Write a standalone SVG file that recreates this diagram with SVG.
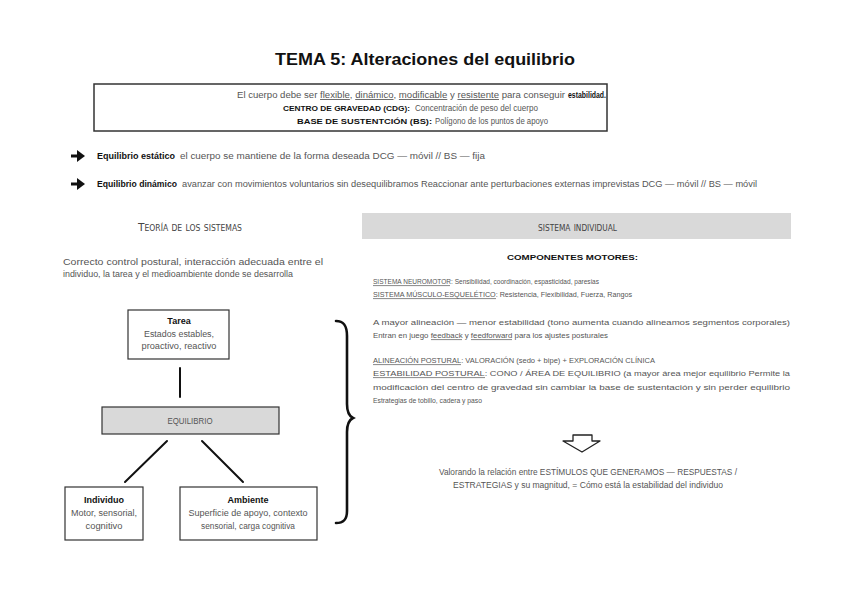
<svg xmlns="http://www.w3.org/2000/svg" width="848" height="599" viewBox="0 0 848 599">
<style>
.t{font-family:"Liberation Sans",Arial,sans-serif;font-size:8.5px;fill:#555}
.s{font-family:"Liberation Sans",Arial,sans-serif;font-size:7.6px;fill:#555}
.b{font-family:"Liberation Sans",Arial,sans-serif;font-weight:bold;fill:#111}
.u{text-decoration:underline}
.ul{stroke:#555;stroke-width:0.7}
.h{font-family:"Liberation Sans Narrow","DejaVu Sans Condensed","Liberation Sans",sans-serif;font-size:11px;fill:#444;font-variant:small-caps}
.box{fill:#fff;stroke:#333;stroke-width:1.2}
.gbox{fill:#d9d9d9;stroke:#333;stroke-width:1.2}
.ln{stroke:#111;stroke-width:2;fill:none;stroke-linecap:round}
</style>
<rect width="848" height="599" fill="#fff"/>

<g id="title">
<text class="b" x="275" y="65" font-size="17" textLength="300" lengthAdjust="spacingAndGlyphs">TEMA 5: Alteraciones del equilibrio</text>
</g>

<g id="intro-box">
<rect x="94" y="84" width="513" height="47" fill="#fff" stroke="#333" stroke-width="1.5"/>
<text class="t" x="237" y="98" textLength="328" lengthAdjust="spacingAndGlyphs">El cuerpo debe ser <tspan class="u">flexible</tspan>, <tspan class="u">dinámico</tspan>, <tspan class="u">modificable</tspan> y <tspan class="u">resistente</tspan> para conseguir</text>
<text class="b" x="568" y="98" font-size="8.5" textLength="38" lengthAdjust="spacingAndGlyphs">estabilidad.</text>
<text class="b" x="283" y="111" font-size="8" textLength="127" lengthAdjust="spacingAndGlyphs">CENTRO DE GRAVEDAD (CDG):</text>
<text class="t" x="415" y="111" textLength="123" lengthAdjust="spacingAndGlyphs">Concentración de peso del cuerpo</text>
<text class="b" x="297" y="124" font-size="8" textLength="135" lengthAdjust="spacingAndGlyphs">BASE DE SUSTENTCIÓN (BS):</text>
<text class="t" x="435" y="124" textLength="113" lengthAdjust="spacingAndGlyphs">Polígono de los puntos de apoyo</text>
</g>

<g id="bullets">
<path d="M71,156 H80" stroke="#111" stroke-width="3"/>
<polygon points="77,150 85,156 77,162" fill="#111"/>
<text class="b" x="97" y="159" font-size="9" textLength="78" lengthAdjust="spacingAndGlyphs">Equilibrio estático</text>
<text class="t" x="180" y="159" textLength="305" lengthAdjust="spacingAndGlyphs">el cuerpo se mantiene de la forma deseada DCG — móvil // BS — fija</text>
<path d="M71,184 H80" stroke="#111" stroke-width="3"/>
<polygon points="77,178 85,184 77,190" fill="#111"/>
<text class="b" x="97" y="187" font-size="9" textLength="80" lengthAdjust="spacingAndGlyphs">Equilibrio dinámico</text>
<text class="t" x="182" y="187" textLength="575" lengthAdjust="spacingAndGlyphs">avanzar con movimientos voluntarios sin desequilibramos Reaccionar ante perturbaciones externas imprevistas DCG — móvil // BS — móvil</text>
</g>

<g id="teoria">
<text class="h" x="138" y="231" textLength="104" lengthAdjust="spacingAndGlyphs">Teoría de los sistemas</text>
<text class="t" x="63" y="265" textLength="260" lengthAdjust="spacingAndGlyphs">Correcto control postural, interacción adecuada entre el</text>
<text class="t" x="63" y="277" textLength="230" lengthAdjust="spacingAndGlyphs">individuo, la tarea y el medioambiente donde se desarrolla</text>
</g>

<g id="connectors">
<line class="ln" x1="180" y1="368" x2="180" y2="397"/>
<line class="ln" x1="167" y1="441" x2="125" y2="482"/>
<line class="ln" x1="202" y1="441" x2="243" y2="482"/>
<path d="M336,321 C344,321 347,326 347,336 L347,404 C347,412 349,416 353,418 C349,420 347,424 347,432 L347,511 C347,519 344,523 336,523" fill="none" stroke="#111" stroke-width="2.6" stroke-linecap="round"/>
</g>

<g id="node-tarea">
<rect class="box" x="128" y="310" width="101" height="49"/>
<text class="b" x="179" y="324" font-size="9" text-anchor="middle">Tarea</text>
<text class="t" x="179" y="337" text-anchor="middle" textLength="70" lengthAdjust="spacingAndGlyphs">Estados estables,</text>
<text class="t" x="179" y="349" text-anchor="middle" textLength="75" lengthAdjust="spacingAndGlyphs">proactivo, reactivo</text>
</g>

<g id="node-equilibrio">
<rect class="gbox" x="102" y="407" width="177" height="27"/>
<text class="t" x="190" y="424" text-anchor="middle" textLength="45" lengthAdjust="spacingAndGlyphs">EQUILIBRIO</text>
</g>

<g id="node-individuo">
<rect class="box" x="65" y="487" width="78" height="53"/>
<text class="b" x="104" y="503" font-size="9" text-anchor="middle">Individuo</text>
<text class="t" x="104" y="516" text-anchor="middle" textLength="66" lengthAdjust="spacingAndGlyphs">Motor, sensorial,</text>
<text class="t" x="104" y="529" text-anchor="middle" textLength="37" lengthAdjust="spacingAndGlyphs">cognitivo</text>
</g>

<g id="node-ambiente">
<rect class="box" x="180" y="487" width="137" height="53"/>
<text class="b" x="248" y="503" font-size="9" text-anchor="middle">Ambiente</text>
<text class="t" x="248" y="516" text-anchor="middle" textLength="119" lengthAdjust="spacingAndGlyphs">Superficie de apoyo, contexto</text>
<text class="t" x="248" y="529" text-anchor="middle" textLength="94" lengthAdjust="spacingAndGlyphs">sensorial, carga cognitiva</text>
</g>

<g id="sistema-individual">
<rect x="362" y="213" width="429" height="26" fill="#d9d9d9"/>
<text class="h" x="538" y="231" textLength="79" lengthAdjust="spacingAndGlyphs">sistema individual</text>
<text class="b" x="507" y="260" font-size="8" textLength="131" lengthAdjust="spacingAndGlyphs">COMPONENTES MOTORES:</text>
<text class="s" x="373" y="284" textLength="226" lengthAdjust="spacingAndGlyphs">SISTEMA NEUROMOTOR: Sensibilidad, coordinación, espasticidad, paresias</text>
<line class="ul" x1="373" y1="285.6" x2="450" y2="285.6"/>
<text class="s" x="373" y="297" textLength="259" lengthAdjust="spacingAndGlyphs">SISTEMA MÚSCULO-ESQUELÉTICO: Resistencia, Flexibilidad, Fuerza, Rangos</text>
<line class="ul" x1="373" y1="298.6" x2="496" y2="298.6"/>
<text class="s" x="373" y="325" textLength="417" lengthAdjust="spacingAndGlyphs">A mayor alineación — menor estabilidad (tono aumenta cuando alineamos segmentos corporales)</text>
<text class="s" x="373" y="338" textLength="235" lengthAdjust="spacingAndGlyphs">Entran en juego feedback y feedforward para los ajustes posturales</text>
<line class="ul" x1="431" y1="339.6" x2="462" y2="339.6"/>
<line class="ul" x1="471" y1="339.6" x2="512" y2="339.6"/>
<text class="s" x="373" y="363" textLength="282" lengthAdjust="spacingAndGlyphs">ALINEACIÓN POSTURAL: VALORACIÓN (sedo + bipe) + EXPLORACIÓN CLÍNICA</text>
<line class="ul" x1="373" y1="364.6" x2="461" y2="364.6"/>
<text class="s" x="373" y="376" textLength="417" lengthAdjust="spacingAndGlyphs">ESTABILIDAD POSTURAL: CONO / ÁREA DE EQUILIBRIO (a mayor área mejor equilibrio Permite la</text>
<line class="ul" x1="373" y1="377.6" x2="485" y2="377.6"/>
<text class="s" x="373" y="390" textLength="417" lengthAdjust="spacingAndGlyphs">modificación del centro de gravedad sin cambiar la base de sustentación y sin perder equilibrio</text>
<text class="s" x="373" y="403" textLength="109" lengthAdjust="spacingAndGlyphs">Estrategias de tobillo, cadera y paso</text>
<polygon points="573,435 592,435 592,441 600,441 582,452 563,441 573,441" fill="#fff" stroke="#222" stroke-width="1.3" stroke-linejoin="round"/>
<text class="t" x="588" y="475" text-anchor="middle" textLength="298" lengthAdjust="spacingAndGlyphs">Valorando la relación entre ESTÍMULOS QUE GENERAMOS — RESPUESTAS /</text>
<text class="t" x="588" y="488" text-anchor="middle" textLength="270" lengthAdjust="spacingAndGlyphs">ESTRATEGIAS y su magnitud, = Cómo está la estabilidad del individuo</text>
</g>
</svg>
